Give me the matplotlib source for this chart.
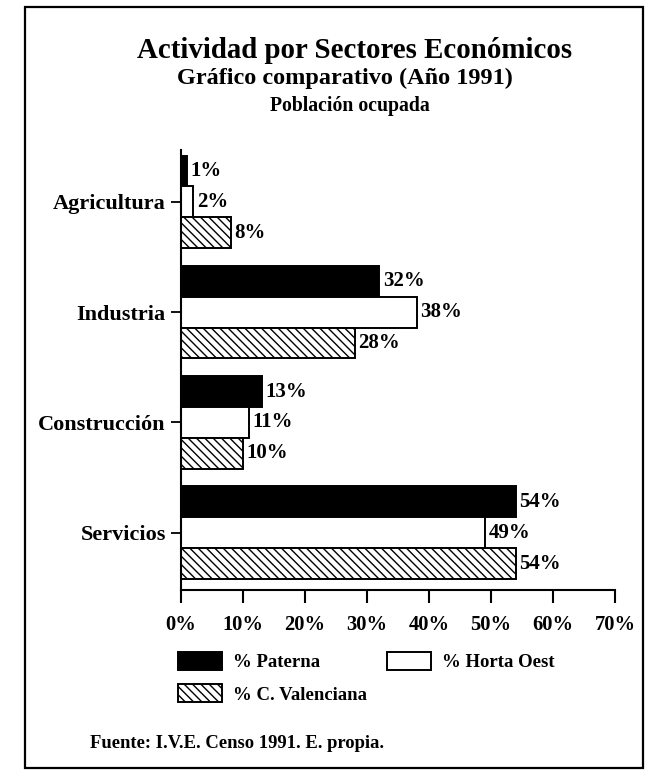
import matplotlib
matplotlib.use("Agg")
import matplotlib.pyplot as plt
import numpy as np
from matplotlib.patches import Rectangle

categories = ["Agricultura", "Industria", "Construcción", "Servicios"]
paterna = [1, 32, 13, 54]
horta_oest = [2, 38, 11, 49]
c_valenciana = [8, 28, 10, 54]
series_names = ["% Paterna", "% Horta Oest", "% C. Valenciana"]
xticks = [0, 10, 20, 30, 40, 50, 60, 70]
xtick_labels = ["0%", "10%", "20%", "30%", "40%", "50%", "60%", "70%"]

plt.rcParams["font.family"] = ["Liberation Serif", "DejaVu Serif"]
plt.rcParams["font.weight"] = "bold"
plt.rcParams["hatch.linewidth"] = 1.0

W, H = 650, 771
fig = plt.figure(figsize=(W / 100, H / 100), dpi=100)

def fx(px):
    return px / W

def fy(py):
    return 1 - py / H

ax = fig.add_axes([fx(181), fy(590), fx(615) - fx(181), fy(150) - fy(590)])

y = np.arange(len(categories))
h = 0.28
kw = dict(height=h, edgecolor="black", linewidth=1.4)
b1 = ax.barh(y - h, paterna, color="black", label=series_names[0], **kw)
b2 = ax.barh(y, horta_oest, color="white", label=series_names[1], **kw)
b3 = ax.barh(y + h, c_valenciana, color="white", hatch="\\\\\\\\", label=series_names[2], **kw)

for vals, off in ((paterna, -h), (horta_oest, 0), (c_valenciana, h)):
    for yi, v in zip(y, vals):
        ax.annotate(f"{v}%", (v, yi + off), xytext=(2.5, 0), textcoords="offset points",
                    va="center", ha="left", fontsize=15, fontweight="bold")

ax.set_xlim(0, 70)
ax.set_ylim(3.52, -0.47)
ax.set_yticks(y)
ax.set_yticklabels(categories, fontsize=16, fontweight="bold")
ax.set_xticks(xticks)
ax.set_xticklabels(xtick_labels, fontsize=14.8, fontweight="bold")
for s in ("top", "right"):
    ax.spines[s].set_visible(False)
for s in ("left", "bottom"):
    ax.spines[s].set_linewidth(1.5)
ax.tick_params(axis="y", length=7, width=1.3, pad=4)
ax.tick_params(axis="x", length=9, width=1.5, pad=9)

fig.text(fx(355), fy(50), "Actividad por Sectores Económicos", ha="center", va="center",
         fontsize=20.8, fontweight="bold")
fig.text(fx(345), fy(78), "Gráfico comparativo (Año 1991)", ha="center", va="center",
         fontsize=17.5, fontweight="bold")
fig.text(fx(350), fy(106), "Población ocupada", ha="center", va="center",
         fontsize=14.2, fontweight="bold")

fig.legend([b1, b3, b2], [series_names[0], series_names[2], series_names[1]],
           ncol=2, loc="upper left", bbox_to_anchor=(fx(178), fy(652)),
           frameon=False, handlelength=2.35, handleheight=1.07,
           handletextpad=0.6, columnspacing=1.05, labelspacing=0.7, borderpad=0,
           borderaxespad=0, prop={"weight": "bold", "size": 13.5})

fig.text(fx(90), fy(743), "Fuente: I.V.E. Censo 1991. E. propia.", ha="left", va="center",
         fontsize=13.4, fontweight="bold")

fig.patches.append(Rectangle((fx(25), fy(768)), fx(643) - fx(25), fy(7) - fy(768),
                             transform=fig.transFigure, fill=False, edgecolor="black",
                             linewidth=1.6))

fig.savefig("out.png", dpi=100, facecolor="white")
